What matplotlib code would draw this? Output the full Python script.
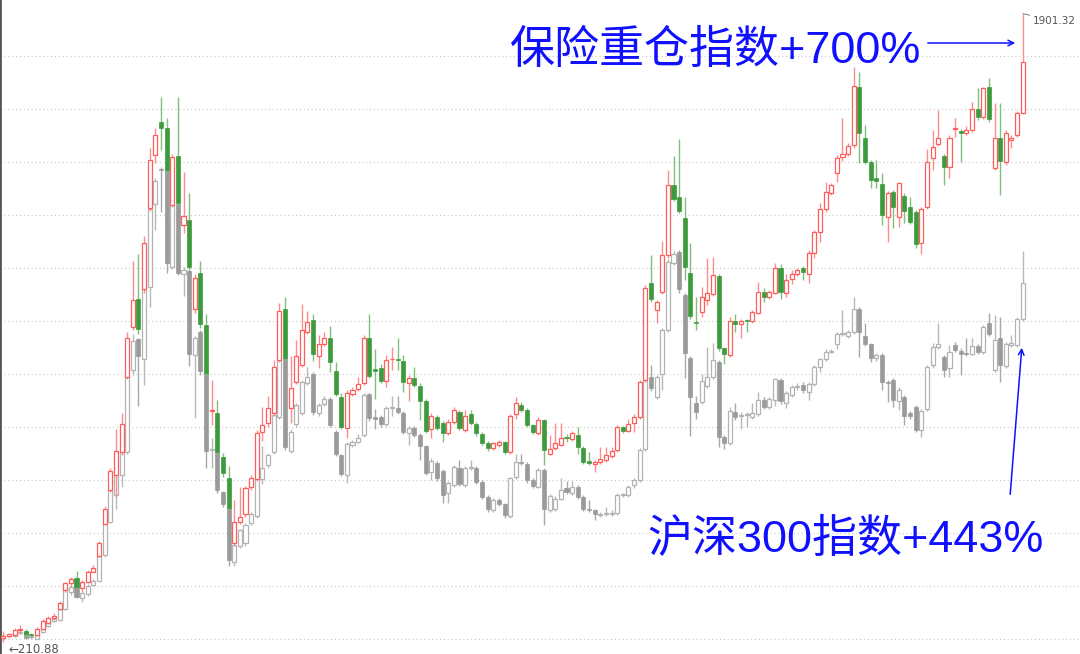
import numpy as np
import matplotlib.pyplot as plt

plt.rcParams['font.family'] = ['Noto Sans CJK SC', 'DejaVu Sans']

# monthly candles, insurance-heavy index (red/green) and CSI 300 (grey), same start level
ins_open = [222, 228, 230, 243, 241, 232, 230, 246, 262, 276,
            300, 351, 369, 382, 355, 373, 400, 442, 528, 620,
            660, 723, 924, 1059, 1133, 1160, 1378, 1521, 1609, 1593,
            1387, 1518, 1332, 1346, 1107, 1204, 1064, 832, 828, 708,
            653, 478, 533, 554, 629, 650, 776, 799, 826, 970,
            1106, 840, 911, 956, 1046, 1077, 979, 1013, 1030, 941,
            869, 786, 878, 891, 908, 1030, 945, 947, 914, 971,
            971, 968, 907, 922, 900, 860, 783, 817, 799, 774,
            804, 830, 781, 824, 797, 770, 747, 732, 741, 748,
            723, 824, 849, 835, 794, 772, 808, 718, 732, 741,
            761, 758, 768, 733, 697, 690, 695, 700, 711, 727,
            788, 779, 799, 817, 916, 1177, 1104, 1153, 1252, 1440,
            1409, 1351, 1204, 1073, 1099, 1131, 1147, 1195, 1001, 983,
            1075, 1066, 1075, 1075, 1097, 1153, 1140, 1151, 1216, 1149,
            1187, 1202, 1216, 1201, 1258, 1313, 1375, 1420, 1473, 1516,
            1524, 1548, 1705, 1566, 1503, 1458, 1443, 1353, 1422, 1353,
            1411, 1380, 1368, 1283, 1382, 1512, 1551, 1519, 1490, 1590,
            1586, 1579, 1588, 1644, 1622, 1705, 1485, 1568, 1503, 1561,
            1575, 1635]
ins_close = [228, 232, 243, 244, 232, 229, 246, 268, 275, 282,
             315, 369, 380, 360, 373, 400, 409, 478, 569, 670,
             725, 798, 1030, 1131, 1054, 1285, 1508, 1575, 1593, 1481,
             1517, 1391, 1356, 1220, 1189, 1067, 934, 833, 723, 665,
             572, 535, 547, 624, 653, 774, 795, 840, 950, 1101,
             974, 893, 979, 1050, 1073, 986, 1012, 1028, 965, 878,
             790, 880, 889, 905, 1028, 927, 941, 914, 970, 972,
             969, 911, 922, 902, 860, 779, 819, 786, 774, 804,
             835, 786, 819, 799, 772, 745, 732, 745, 748, 723,
             819, 855, 835, 795, 776, 808, 727, 729, 745, 761,
             759, 772, 736, 696, 692, 696, 702, 714, 725, 790,
             778, 797, 817, 911, 1164, 1133, 1126, 1252, 1440, 1404,
             1371, 1219, 1088, 1070, 1140, 1151, 1198, 1003, 986, 1075,
             1066, 1075, 1074, 1099, 1153, 1140, 1153, 1218, 1152, 1186,
             1202, 1211, 1205, 1258, 1313, 1375, 1422, 1440, 1512, 1524,
             1545, 1707, 1579, 1503, 1454, 1452, 1360, 1418, 1382, 1445,
             1371, 1342, 1281, 1375, 1503, 1542, 1568, 1488, 1568, 1593,
             1579, 1588, 1644, 1622, 1700, 1618, 1566, 1506, 1581, 1566,
             1633, 1770]
ins_high = [240, 236, 248, 256, 245, 236, 250, 272, 282, 290,
            320, 372, 385, 402, 378, 405, 417, 484, 576, 680,
            783, 827, 1045, 1237, 1256, 1303, 1539, 1593, 1678, 1620,
            1525, 1678, 1476, 1418, 1200, 1237, 1093, 915, 862, 720,
            684, 593, 629, 630, 660, 780, 843, 873, 969, 1124,
            1140, 979, 1023, 1119, 1101, 1092, 1037, 1046, 1061, 965,
            880, 888, 897, 925, 1037, 1092, 998, 960, 983, 1005,
            1028, 983, 930, 952, 907, 866, 826, 822, 806, 812,
            844, 836, 836, 836, 802, 776, 752, 750, 755, 752,
            825, 871, 856, 840, 798, 817, 812, 768, 799, 799,
            770, 778, 790, 738, 723, 700, 736, 736, 736, 794,
            792, 812, 823, 916, 1170, 1252, 1130, 1290, 1481, 1518,
            1563, 1409, 1283, 1140, 1167, 1243, 1246, 1200, 1005, 1085,
            1092, 1080, 1081, 1103, 1180, 1162, 1158, 1230, 1229, 1200,
            1213, 1216, 1222, 1265, 1320, 1391, 1449, 1446, 1521, 1620,
            1552, 1759, 1745, 1602, 1508, 1508, 1472, 1425, 1428, 1449,
            1418, 1409, 1372, 1380, 1536, 1588, 1642, 1525, 1575, 1620,
            1590, 1598, 1664, 1700, 1705, 1727, 1660, 1662, 1588, 1575,
            1640, 1901.32]
ins_low = [210.88, 224, 228, 232, 228, 224, 226, 244, 260, 272,
           296, 345, 360, 356, 345, 370, 398, 440, 525, 615,
           600, 715, 918, 1050, 1040, 1150, 1370, 1500, 1535, 1470,
           1380, 1385, 1310, 1210, 1095, 1055, 925, 795, 715, 655,
           565, 470, 528, 548, 620, 645, 751, 790, 820, 965,
           968, 799, 905, 950, 1040, 967, 947, 1008, 938, 872,
           784, 759, 872, 886, 902, 920, 866, 908, 896, 944,
           944, 884, 860, 896, 808, 773, 759, 780, 750, 768,
           798, 780, 776, 794, 766, 740, 726, 727, 736, 718,
           718, 812, 830, 790, 770, 767, 687, 713, 727, 737,
           748, 753, 718, 690, 688, 669, 690, 695, 706, 722,
           774, 775, 776, 812, 910, 1125, 1068, 1148, 1245, 1398,
           1364, 1185, 1080, 1050, 1085, 1118, 1142, 995, 960, 978,
           1046, 1030, 1046, 1070, 1092, 1125, 1135, 1146, 1133, 1140,
           1174, 1196, 1185, 1177, 1243, 1288, 1368, 1414, 1449, 1505,
           1518, 1540, 1499, 1497, 1431, 1431, 1333, 1288, 1324, 1328,
           1337, 1335, 1270, 1256, 1376, 1481, 1545, 1440, 1458, 1570,
           1503, 1574, 1583, 1616, 1617, 1611, 1481, 1413, 1494, 1539,
           1570, 1630]

csi_open = [224, 226, 226, 236, 238, 224, 220, 238, 255, 267,
            270, 300, 346, 360, 328, 340, 364, 376, 444, 535,
            607, 660, 723, 944, 1027, 972, 1165, 1388, 1484, 1481,
            1221, 1390, 1201, 1208, 982, 1045, 934, 727, 723, 614,
            572, 425, 470, 478, 531, 550, 650, 688, 723, 817,
            974, 726, 797, 828, 907, 931, 826, 851, 866, 777,
            714, 660, 740, 750, 768, 877, 815, 817, 797, 840,
            841, 828, 772, 787, 768, 738, 669, 692, 671, 611,
            633, 678, 634, 680, 680, 642, 602, 566, 593, 582,
            550, 656, 696, 691, 647, 629, 673, 566, 568, 597,
            624, 611, 627, 602, 570, 566, 552, 555, 556, 557,
            606, 606, 632, 647, 729, 925, 871, 933, 1050, 1231,
            1261, 1144, 976, 853, 857, 899, 925, 965, 763, 745,
            831, 820, 821, 815, 824, 862, 844, 863, 917, 854,
            875, 896, 902, 884, 906, 950, 971, 992, 1012, 1039,
            1034, 1045, 1108, 1034, 1012, 974, 983, 911, 915, 860,
            871, 828, 844, 781, 837, 956, 1005, 978, 947, 1010,
            994, 987, 987, 1007, 992, 1068, 942, 1028, 953, 1010,
            1010, 1081]
csi_close = [226, 229, 236, 238, 223, 226, 238, 258, 270, 272,
             300, 360, 360, 333, 342, 362, 376, 442, 530, 620,
             660, 723, 924, 1020, 979, 1160, 1376, 1451, 1482, 1230,
             1387, 1203, 1212, 987, 1028, 939, 725, 728, 620, 583,
             431, 473, 511, 527, 554, 650, 679, 713, 822, 970,
             735, 777, 849, 911, 925, 830, 849, 866, 795, 718,
             663, 743, 750, 759, 875, 813, 810, 797, 840, 841,
             829, 777, 787, 768, 738, 666, 699, 651, 606, 638,
             681, 636, 678, 682, 642, 602, 568, 593, 582, 552,
             651, 696, 693, 647, 630, 673, 570, 603, 597, 621,
             615, 629, 602, 570, 566, 555, 556, 555, 558, 606,
             606, 629, 647, 727, 916, 893, 925, 1050, 1234, 1256,
             1160, 989, 871, 830, 914, 923, 969, 763, 745, 833,
             817, 821, 821, 828, 862, 844, 866, 918, 858, 880,
             896, 899, 888, 906, 950, 971, 992, 994, 1039, 1041,
             1045, 1108, 1045, 1012, 975, 983, 911, 908, 862, 890,
             819, 819, 781, 833, 951, 1005, 1012, 942, 992, 996,
             987, 985, 1007, 992, 1059, 1039, 1023, 956, 1012, 1014,
             1079, 1178]
csi_high = [232, 233, 240, 244, 240, 230, 241, 262, 273, 277,
            304, 364, 365, 362, 345, 366, 380, 446, 535, 625,
            668, 730, 930, 1040, 1030, 1166, 1382, 1460, 1490, 1485,
            1392, 1395, 1220, 1212, 1035, 1050, 938, 760, 728, 618,
            576, 480, 516, 532, 560, 656, 737, 720, 828, 975,
            980, 784, 855, 917, 950, 936, 855, 872, 871, 782,
            718, 748, 755, 770, 880, 882, 839, 822, 846, 872,
            872, 833, 792, 792, 772, 742, 705, 697, 676, 645,
            688, 700, 684, 700, 684, 646, 606, 598, 598, 586,
            656, 718, 718, 696, 652, 678, 678, 608, 603, 651,
            645, 645, 632, 606, 592, 570, 562, 575, 566, 611,
            612, 634, 652, 732, 922, 956, 930, 1056, 1240, 1262,
            1266, 1150, 980, 872, 933, 1005, 1014, 970, 768, 843,
            853, 830, 830, 853, 884, 871, 871, 922, 922, 886,
            902, 908, 911, 911, 955, 976, 998, 1000, 1045, 1104,
            1050, 1140, 1112, 1068, 1016, 988, 988, 916, 920, 896,
            876, 833, 849, 838, 956, 1014, 1068, 982, 1010, 1019,
            1001, 1028, 1030, 1012, 1064, 1095, 1090, 1086, 1018, 1036,
            1085, 1264]
csi_low = [213, 221, 224, 232, 220, 220, 218, 236, 252, 265,
           268, 296, 337, 330, 319, 336, 362, 374, 440, 530,
           569, 627, 718, 929, 845, 902, 1112, 1318, 1369, 1203,
           1215, 1198, 1143, 953, 814, 930, 679, 679, 612, 575,
           415, 415, 465, 470, 525, 545, 636, 680, 718, 812,
           728, 720, 790, 822, 902, 822, 820, 846, 788, 712,
           657, 638, 735, 745, 762, 806, 783, 790, 792, 818,
           823, 770, 741, 762, 700, 660, 647, 645, 586, 584,
           628, 630, 628, 674, 636, 596, 560, 560, 576, 545,
           545, 650, 688, 640, 624, 624, 525, 561, 563, 592,
           609, 606, 596, 564, 560, 539, 546, 549, 550, 552,
           600, 600, 626, 642, 724, 886, 865, 889, 1044, 1225,
           1150, 920, 765, 812, 850, 894, 919, 736, 731, 740,
           808, 785, 789, 810, 818, 838, 838, 845, 852, 840,
           869, 890, 882, 862, 900, 938, 966, 988, 1000, 1035,
           1028, 1040, 978, 1006, 964, 968, 888, 857, 844, 834,
           794, 812, 777, 763, 832, 948, 1000, 924, 924, 990,
           929, 980, 982, 986, 986, 1033, 936, 911, 947, 1004,
           1005, 1075]


def draw_candles(ax, o, c, h, l, up_edge, up_wick, dn_face, dn_wick, z):
    o, c, h, l = (np.asarray(v, dtype=float) for v in (o, c, h, l))
    x = np.arange(len(o))
    up = c >= o
    dn = ~up
    ax.vlines(x[up], l[up], h[up], color=up_wick, lw=1.0, zorder=z)
    ax.vlines(x[dn], l[dn], h[dn], color=dn_wick, lw=1.0, zorder=z)
    bottom = np.minimum(o, c)
    height = np.maximum(np.abs(c - o), 2.5)
    ax.bar(x[up], height[up], 0.72, bottom[up], facecolor='white',
           edgecolor=up_edge, lw=0.9, zorder=z + 0.5)
    ax.bar(x[dn], height[dn], 0.72, bottom[dn], facecolor=dn_face,
           edgecolor=dn_face, lw=0.5, zorder=z + 0.5)


fig = plt.figure(figsize=(10.8, 6.54), dpi=100)
ax = fig.add_axes([0, 0, 1, 1])

draw_candles(ax, csi_open, csi_close, csi_high, csi_low,
             '#b3b3b3', '#b8b8b8', '#9a9a9a', '#a8a8a8', 2)
draw_candles(ax, ins_open, ins_close, ins_high, ins_low,
             '#ff5c5c', '#ff8c8c', '#3d9a3d', '#7cc07c', 4)

n = len(ins_close)
step = 1019.4 / (n - 1)
ax.set_xlim(-3.3 / step, (1080 - 3.3) / step)
ax.set_ylim(178.7, 1938)

# dotted horizontal grid, no tick labels
ax.set_yticks(np.arange(219, 1800, 142.6))
ax.yaxis.grid(True, ls=(0, (1, 2.5)), color='#c8c8c8', lw=0.8)
ax.tick_params(left=False, bottom=False, labelleft=False, labelbottom=False)
for s in ['top', 'right', 'bottom']:
    ax.spines[s].set_visible(False)
ax.spines['left'].set_color('#555555')
ax.spines['left'].set_linewidth(2)

# high / low marks
ax.annotate('1901.32', xy=(n - 1, 1901.32), xytext=(7, -5), textcoords='offset points',
            fontsize=7.5, color='#555555', va='center', family='DejaVu Sans',
            arrowprops=dict(arrowstyle='-', color='#777777', lw=0.7, shrinkA=0, shrinkB=0))
ax.text(1.0, 192, '←210.88', fontsize=8.5, color='#555555', va='center',
        family='DejaVu Sans')

blue = '#1010ff'
label_font = ['Liberation Sans', 'Noto Sans CJK SC']
fig.text(510 / 1080, 1 - 63 / 654, '保险重仓指数+700%', fontsize=32.4, color=blue,
         ha='left', va='baseline', family=label_font, fontweight='light')
fig.text(647 / 1080, 1 - 552 / 654, '沪深300指数+443%', fontsize=32.4, color=blue,
         ha='left', va='baseline', family=label_font, fontweight='light')
ax.annotate('', xy=(1018, 654 - 43), xytext=(925, 654 - 43), xycoords='figure pixels',
            arrowprops=dict(arrowstyle='->', color=blue, lw=1.1))
ax.annotate('', xy=(1022, 654 - 345), xytext=(1010, 654 - 497), xycoords='figure pixels',
            arrowprops=dict(arrowstyle='->', color=blue, lw=1.1))

fig.savefig('out.png', dpi=100, facecolor='white')
